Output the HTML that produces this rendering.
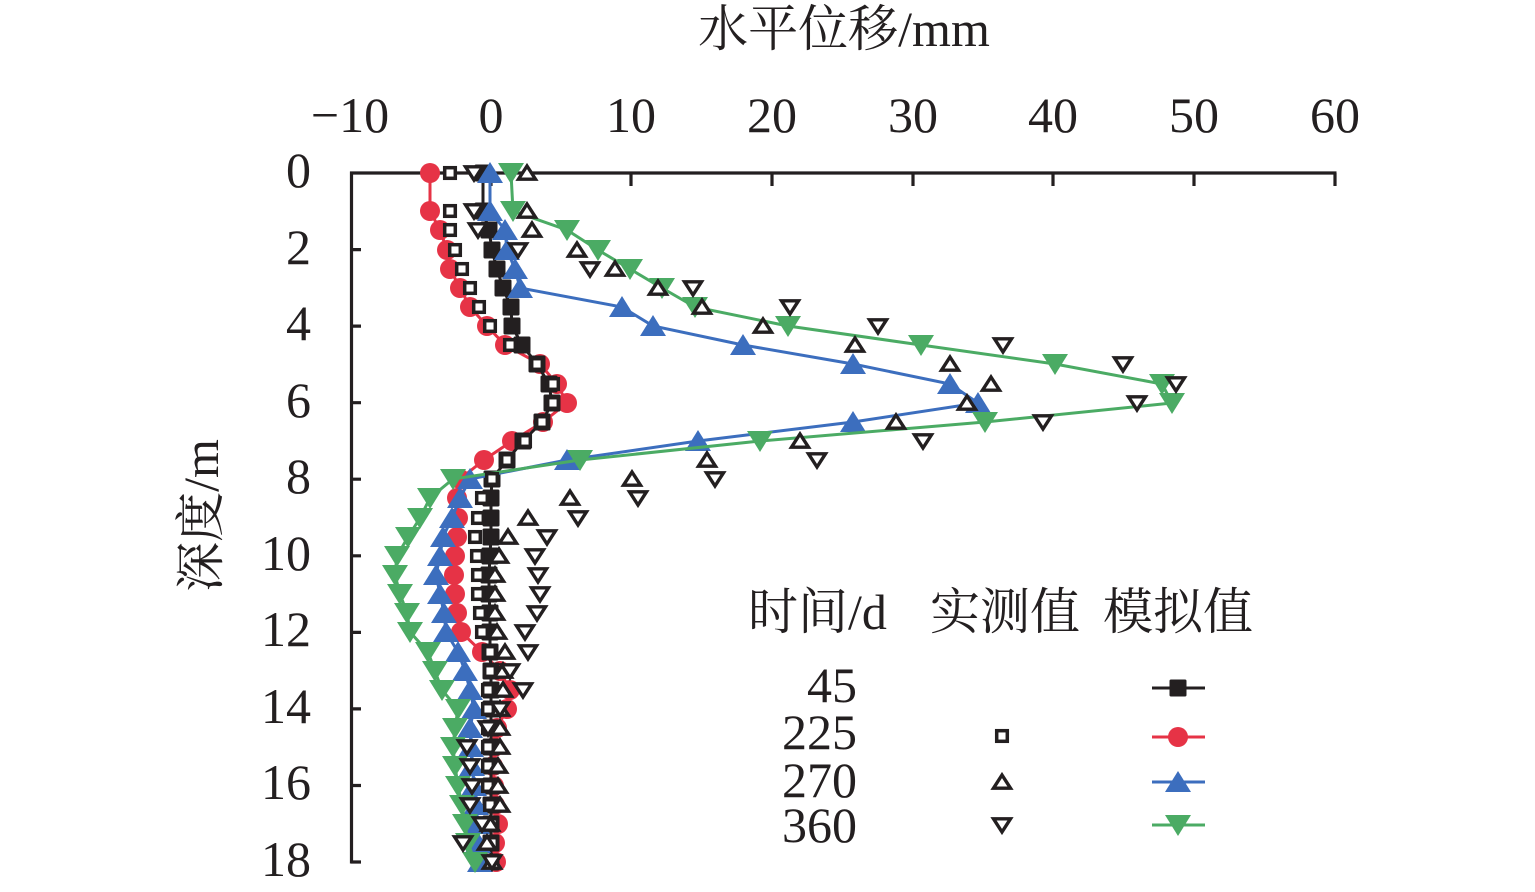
<!DOCTYPE html>
<html><head><meta charset="utf-8"><style>html,body{margin:0;padding:0;background:#fff;}svg{display:block}</style></head>
<body>
<svg width="1535" height="892" viewBox="0 0 1535 892" xmlns="http://www.w3.org/2000/svg" font-family="'Liberation Serif','Noto Serif CJK SC',serif" fill="#231f20">
<defs>
<marker id="msq" markerUnits="userSpaceOnUse" markerWidth="40" markerHeight="40" viewBox="-20 -20 40 40" refX="0" refY="0" overflow="visible"><rect x="-8.5" y="-8.5" width="17" height="17" rx="1.5" fill="#231f20"/></marker>
<marker id="mci" markerUnits="userSpaceOnUse" markerWidth="40" markerHeight="40" viewBox="-20 -20 40 40" refX="0" refY="0" overflow="visible"><circle r="10" fill="#e63346"/></marker>
<marker id="mup" markerUnits="userSpaceOnUse" markerWidth="40" markerHeight="40" viewBox="-20 -20 40 40" refX="0" refY="0" overflow="visible"><path d="M0,-11 L13,10 L-13,10 Z" fill="#3c6ebe"/></marker>
<marker id="mdn" markerUnits="userSpaceOnUse" markerWidth="40" markerHeight="40" viewBox="-20 -20 40 40" refX="0" refY="0" overflow="visible"><path d="M0,11 L13,-10 L-13,-10 Z" fill="#4bab64"/></marker>
<marker id="hsq" markerUnits="userSpaceOnUse" markerWidth="40" markerHeight="40" viewBox="-20 -20 40 40" refX="0" refY="0" overflow="visible"><rect x="-5.3" y="-5.3" width="10.6" height="10.6" fill="#fff" stroke="#231f20" stroke-width="3.5"/></marker>
<marker id="hup" markerUnits="userSpaceOnUse" markerWidth="40" markerHeight="40" viewBox="-20 -20 40 40" refX="0" refY="0" overflow="visible"><path d="M0,-7 L8.5,6.2 L-8.5,6.2 Z" fill="#fff" stroke="#231f20" stroke-width="3.4" stroke-linejoin="miter"/></marker>
<marker id="hdn" markerUnits="userSpaceOnUse" markerWidth="40" markerHeight="40" viewBox="-20 -20 40 40" refX="0" refY="0" overflow="visible"><path d="M0,7 L8.5,-6.2 L-8.5,-6.2 Z" fill="#fff" stroke="#231f20" stroke-width="3.4" stroke-linejoin="miter"/></marker>
</defs>

<!-- title -->
<text x="844" y="46" font-size="50" text-anchor="middle">水平位移/mm</text>
<text transform="translate(218,515.5) rotate(-90)" font-size="50" text-anchor="middle">深度/m</text>

<!-- x tick labels -->
<g font-size="50" text-anchor="middle">
<text x="350" y="132">−10</text>
<text x="491" y="132">0</text>
<text x="631" y="132">10</text>
<text x="772" y="132">20</text>
<text x="913" y="132">30</text>
<text x="1053" y="132">40</text>
<text x="1194" y="132">50</text>
<text x="1335" y="132">60</text>
</g>
<!-- y tick labels -->
<g font-size="50" text-anchor="end">
<text x="311" y="187">0</text>
<text x="311" y="264">2</text>
<text x="311" y="340">4</text>
<text x="311" y="417">6</text>
<text x="311" y="493">8</text>
<text x="311" y="570">10</text>
<text x="311" y="646">12</text>
<text x="311" y="723">14</text>
<text x="311" y="799">16</text>
<text x="311" y="876">18</text>
</g>

<!-- axes -->
<g stroke="#231f20" stroke-width="3.2" fill="none">
<path d="M350,173 H1336.5"/>
<path d="M351.5,171.5 V863.5"/>
<path d="M491,173 V186 M631,173 V186 M772,173 V186 M913,173 V186 M1053,173 V186 M1194,173 V186 M1335,173 V186"/>
<path d="M351,249.6 H361 M351,326.1 H361 M351,402.7 H361 M351,479.2 H361 M351,555.8 H361 M351,632.4 H361 M351,708.9 H361 M351,785.5 H361 M351,862 H361"/>
</g>

<!-- simulated 225 (red) -->
<polyline fill="none" stroke="#e63346" stroke-width="3" marker-start="url(#mci)" marker-mid="url(#mci)" marker-end="url(#mci)"
points="430,173 430,211 440,230 447,250 450,269 460,288 470,307 487,326 505,345 540,364 557,384 567,403 543,422 512,441 484,460 460,479 457,498 458,518 457,537 455,556 454,575 455,594 457,613 461,632 482,652 500,671 510,690 507,709 497,728 494,747 493,766 494,786 495,805 498,824 495,843 496,862"/>
<!-- simulated 45 (black) -->
<polyline fill="none" stroke="#231f20" stroke-width="3" marker-start="url(#msq)" marker-mid="url(#msq)" marker-end="url(#msq)"
points="483,173 483,211 489,230 492,250 497,269 503,288 511,307 512,326 522,345 537,364 549,384 552,403 542,422 523,441 507,460 492,479 491,498 491,518 491,537 490,556 489,575 489,594 490,613 490,632 490,652 491,671 491,690 491,709 491,728 491,747 491,766 491,786 491,805 491,824 491,843 491,862"/>
<!-- simulated 270 (blue) -->
<polyline fill="none" stroke="#3c6ebe" stroke-width="3" marker-start="url(#mup)" marker-mid="url(#mup)" marker-end="url(#mup)"
points="490,173 490,211 505,230 507,250 515,269 520,288 622,307 653,326 743,345 853,364 950,384 978,403 853,422 698,441 567,460 470,479 460,498 452,518 443,537 440,556 436,575 440,594 444,613 446,632 458,652 465,671 470,690 474,709 470,728 471,747 472,766 474,786 476,805 477,824 478,843 480,862"/>
<!-- simulated 360 (green) -->
<polyline fill="none" stroke="#4bab64" stroke-width="3" marker-start="url(#mdn)" marker-mid="url(#mdn)" marker-end="url(#mdn)"
points="511,173 513,211 567,230 598,250 630,269 662,288 695,307 788,326 921,345 1055,364 1162,384 1172,403 985,422 760,441 580,460 453,479 430,498 420,518 408,537 397,556 395,575 400,594 407,613 410,632 428,652 435,671 442,690 458,709 455,728 453,747 455,766 458,786 462,805 465,824 468,843 475,862"/>

<!-- measured 225 (hollow squares) -->
<polyline fill="none" stroke="none" marker-start="url(#hsq)" marker-mid="url(#hsq)" marker-end="url(#hsq)"
points="450,173 450,211 450,230 455,250 462,269 470,288 479,307 490,326 510,345 537,364 553,384 553,403 542,422 525,441 507,460 492,479 482,498 478,518 475,537 477,556 478,575 478,594 480,613 482,632 490,652 490,671 488,690 488,709 488,728 488,747 488,766 488,786 490,805 492,824 492,843 492,862"/>
<!-- measured 270 (hollow up triangles) -->
<polyline fill="none" stroke="none" marker-start="url(#hup)" marker-mid="url(#hup)" marker-end="url(#hup)"
points="527,173 527,211 532,230 577,250 615,269 658,288 702,307 763,326 855,345 950,364 991,384 967,403 896,422 800,441 707,460 632,479 570,498 528,518 508,537 499,556 495,575 495,594 495,613 497,632 505,652 503,671 503,690 500,709 500,728 500,747 498,766 498,786 500,805 490,824 487,843 492,862"/>
<!-- measured 360 (hollow down triangles) -->
<polyline fill="none" stroke="none" marker-start="url(#hdn)" marker-mid="url(#hdn)" marker-end="url(#hdn)"
points="474,173 474,211 478,230 518,250 590,269 693,288 790,307 878,326 1003,345 1123,364 1176,384 1137,403 1043,422 923,441 817,460 715,479 638,498 578,518 547,537 535,556 538,575 540,594 537,613 525,632 528,652 510,671 523,690 500,709 488,728 467,747 470,766 472,786 470,805 482,824 463,843 492,862"/>

<!-- legend -->
<g font-size="50">
<text x="748" y="629">时间/d</text>
<text x="930" y="629">实测值</text>
<text x="1103" y="629">模拟值</text>
</g>
<g font-size="50" text-anchor="end">
<text x="857" y="702">45</text>
<text x="857" y="749">225</text>
<text x="857" y="797">270</text>
<text x="857" y="842">360</text>
</g>
<polyline fill="none" stroke="none" marker-start="url(#hsq)" points="1002,736 1002,736"/>
<polyline fill="none" stroke="none" marker-start="url(#hup)" points="1002,782 1002,782"/>
<polyline fill="none" stroke="none" marker-start="url(#hdn)" points="1002,825 1002,825"/>
<polyline fill="none" stroke="#231f20" stroke-width="3" marker-mid="url(#msq)" points="1152,688 1178,688 1205,688"/>
<polyline fill="none" stroke="#e63346" stroke-width="3" marker-mid="url(#mci)" points="1152,737 1178,737 1205,737"/>
<polyline fill="none" stroke="#3c6ebe" stroke-width="3" marker-mid="url(#mup)" points="1152,782 1178,782 1205,782"/>
<polyline fill="none" stroke="#4bab64" stroke-width="3" marker-mid="url(#mdn)" points="1152,825 1178,825 1205,825"/>
</svg>
</body></html>
